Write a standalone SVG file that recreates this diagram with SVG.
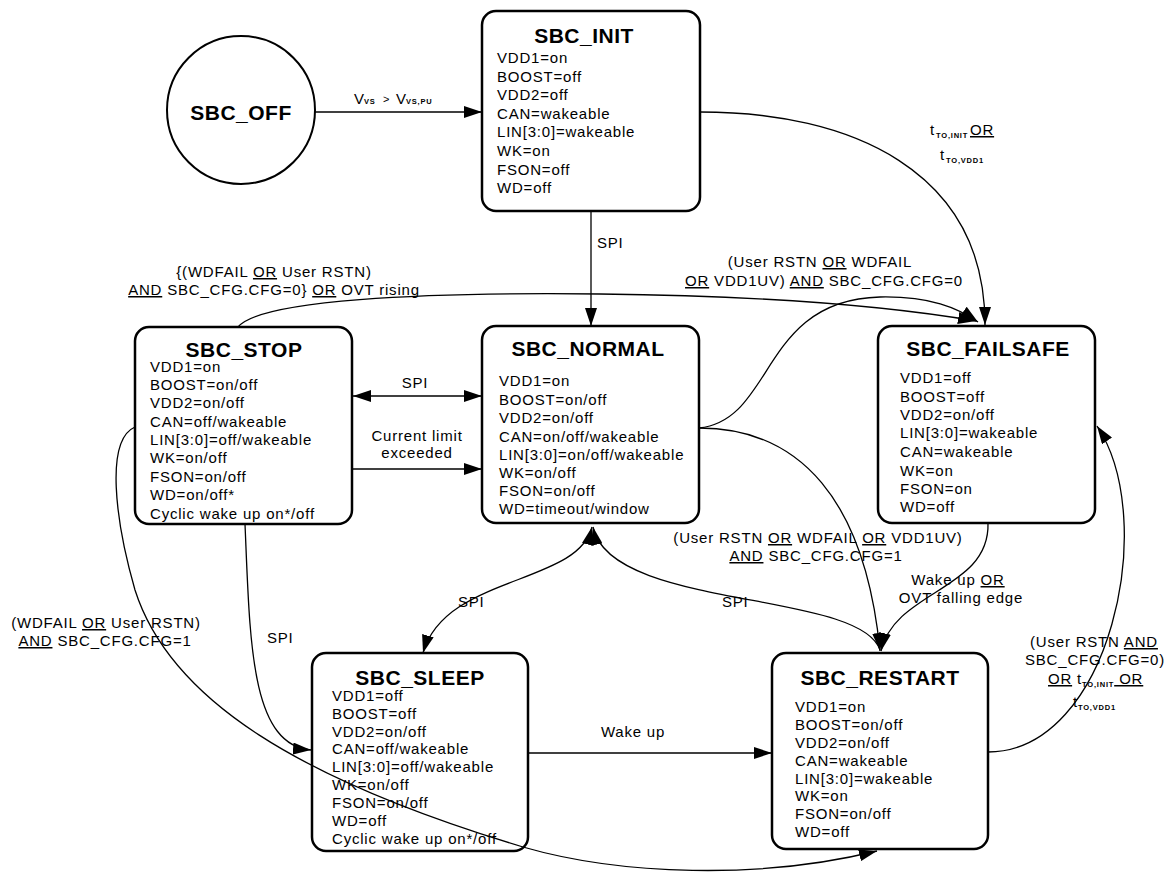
<svg xmlns="http://www.w3.org/2000/svg" width="1167" height="874" viewBox="0 0 1167 874">
  <style>
    .t { font-family: "Liberation Sans", Arial, sans-serif; font-size: 15px; letter-spacing: 0.8px; fill: #000; }
    .h { font-family: "Liberation Sans", Arial, sans-serif; font-size: 21px; font-weight: bold; letter-spacing: 0.5px; text-anchor: middle; fill: #000; }
    .m { text-anchor: middle; }
    .sub { font-size: 7.5px; font-weight: bold; letter-spacing: 0.8px; }
    .u { text-decoration: underline; }
    .box { fill: #fff; stroke: #000; stroke-width: 2.5; }
    .edge { fill: none; stroke: #000; stroke-width: 1.3; }
  </style>
  <defs>
    <marker id="ah" viewBox="0 0 18 12" refX="18" refY="6" markerWidth="18" markerHeight="12" markerUnits="userSpaceOnUse" orient="auto-start-reverse">
      <path d="M0,0 L18,6 L0,12 z" fill="#000"/>
    </marker>
  </defs>
  <rect width="1167" height="874" fill="#fff"/>

  <!-- states -->
  <g id="sbc-off">
    <circle cx="241" cy="110" r="74" fill="#fff" stroke="#000" stroke-width="2"/>
    <text class="h" x="241" y="120">SBC_OFF</text>
  </g>

  <g id="sbc-init">
    <rect class="box" x="482" y="11" width="218" height="200" rx="14"/>
    <text class="h" x="584" y="43">SBC_INIT</text>
    <text class="t">
      <tspan x="497" y="63">VDD1=on</tspan>
      <tspan x="497" y="82">BOOST=off</tspan>
      <tspan x="497" y="100">VDD2=off</tspan>
      <tspan x="497" y="119">CAN=wakeable</tspan>
      <tspan x="497" y="137">LIN[3:0]=wakeable</tspan>
      <tspan x="497" y="156">WK=on</tspan>
      <tspan x="497" y="175">FSON=off</tspan>
      <tspan x="497" y="193">WD=off</tspan>
    </text>
  </g>

  <g id="sbc-stop">
    <rect class="box" x="135" y="327" width="217" height="197" rx="14"/>
    <text class="h" x="244" y="357">SBC_STOP</text>
    <text class="t">
      <tspan x="150" y="372">VDD1=on</tspan>
      <tspan x="150" y="390">BOOST=on/off</tspan>
      <tspan x="150" y="408">VDD2=on/off</tspan>
      <tspan x="150" y="427">CAN=off/wakeable</tspan>
      <tspan x="150" y="445">LIN[3:0]=off/wakeable</tspan>
      <tspan x="150" y="463">WK=on/off</tspan>
      <tspan x="150" y="482">FSON=on/off</tspan>
      <tspan x="150" y="500">WD=on/off*</tspan>
      <tspan x="150" y="519">Cyclic wake up on*/off</tspan>
    </text>
  </g>

  <g id="sbc-normal">
    <rect class="box" x="482" y="326" width="217" height="197" rx="14"/>
    <text class="h" x="588" y="356">SBC_NORMAL</text>
    <text class="t">
      <tspan x="499" y="386">VDD1=on</tspan>
      <tspan x="499" y="405">BOOST=on/off</tspan>
      <tspan x="499" y="423">VDD2=on/off</tspan>
      <tspan x="499" y="442">CAN=on/off/wakeable</tspan>
      <tspan x="499" y="460">LIN[3:0]=on/off/wakeable</tspan>
      <tspan x="499" y="478">WK=on/off</tspan>
      <tspan x="499" y="496">FSON=on/off</tspan>
      <tspan x="499" y="514">WD=timeout/window</tspan>
    </text>
  </g>

  <g id="sbc-failsafe">
    <rect class="box" x="878" y="326" width="217" height="197" rx="14"/>
    <text class="h" x="988" y="356">SBC_FAILSAFE</text>
    <text class="t">
      <tspan x="900" y="383">VDD1=off</tspan>
      <tspan x="900" y="402">BOOST=off</tspan>
      <tspan x="900" y="420">VDD2=on/off</tspan>
      <tspan x="900" y="438">LIN[3:0]=wakeable</tspan>
      <tspan x="900" y="457">CAN=wakeable</tspan>
      <tspan x="900" y="476">WK=on</tspan>
      <tspan x="900" y="494">FSON=on</tspan>
      <tspan x="900" y="512">WD=off</tspan>
    </text>
  </g>

  <g id="sbc-sleep">
    <rect class="box" x="312" y="653" width="216" height="198" rx="14"/>
    <text class="h" x="420" y="685">SBC_SLEEP</text>
    <text class="t">
      <tspan x="332" y="701">VDD1=off</tspan>
      <tspan x="332" y="719">BOOST=off</tspan>
      <tspan x="332" y="737">VDD2=on/off</tspan>
      <tspan x="332" y="754">CAN=off/wakeable</tspan>
      <tspan x="332" y="772">LIN[3:0]=off/wakeable</tspan>
      <tspan x="332" y="790">WK=on/off</tspan>
      <tspan x="332" y="808">FSON=on/off</tspan>
      <tspan x="332" y="826">WD=off</tspan>
      <tspan x="332" y="844">Cyclic wake up on*/off</tspan>
    </text>
  </g>

  <g id="sbc-restart">
    <rect class="box" x="772" y="653" width="216" height="196" rx="14"/>
    <text class="h" x="880" y="685">SBC_RESTART</text>
    <text class="t">
      <tspan x="795" y="712">VDD1=on</tspan>
      <tspan x="795" y="730">BOOST=on/off</tspan>
      <tspan x="795" y="748">VDD2=on/off</tspan>
      <tspan x="795" y="766">CAN=wakeable</tspan>
      <tspan x="795" y="784">LIN[3:0]=wakeable</tspan>
      <tspan x="795" y="801">WK=on</tspan>
      <tspan x="795" y="819">FSON=on/off</tspan>
      <tspan x="795" y="837">WD=off</tspan>
    </text>
  </g>

  <!-- transitions, drawn over the states -->
  <g id="connectors">
    <path class="edge" d="M315,112 L482,112" marker-end="url(#ah)"/>
    <path class="edge" d="M591,211 L591,326" marker-end="url(#ah)"/>
    <path class="edge" d="M700,112 C850,112 985,170 985,325" marker-end="url(#ah)"/>
    <path class="edge" d="M238,327 C260,300 420,292 600,294 S900,308 976,321" marker-end="url(#ah)"/>
    <path class="edge" d="M699,428 C775,420 760,300 880,297 C930,296 958,308 978,322" marker-end="url(#ah)"/>
    <path class="edge" d="M353,396 L482,396" marker-start="url(#ah)" marker-end="url(#ah)"/>
    <path class="edge" d="M353,469 L482,469" marker-end="url(#ah)"/>
    <path class="edge" d="M245,524 C250,640 250,745 311,750" marker-end="url(#ah)"/>
    <path class="edge" d="M135,427 C105,440 115,520 135,590 C170,700 300,780 523,847 C620,875 760,880 877,851" marker-end="url(#ah)"/>
    <path class="edge" d="M592,527 C578,585 445,575 423,653" marker-start="url(#ah)" marker-end="url(#ah)"/>
    <path class="edge" d="M880,650 C860,590 610,610 593,527" marker-end="url(#ah)"/>
    <path class="edge" d="M699,428 C800,428 865,500 880,651" marker-end="url(#ah)"/>
    <path class="edge" d="M988,523 C990,590 895,590 881,651" marker-end="url(#ah)"/>
    <path class="edge" d="M528,753 L772,753" marker-end="url(#ah)"/>
    <path class="edge" d="M988,752 C1110,752 1160,520 1097,426" marker-end="url(#ah)"/>
  </g>

  <!-- transition labels -->
  <g id="labels" class="t">
    <text x="354" y="104">V<tspan class="sub" x="364">VS</tspan><tspan x="383" y="103" font-size="11">&gt;</tspan><tspan x="396" y="104">V</tspan><tspan class="sub" x="406">VS,PU</tspan></text>
    <text x="930" y="135">t<tspan class="sub" x="936" y="138">TO,INIT</tspan><tspan class="u" x="970" y="135">OR</tspan></text>
    <text x="940" y="160">t<tspan class="sub" x="946" y="163">TO,VDD1</tspan></text>
    <text x="597" y="248">SPI</text>
    <text class="m" x="274" y="277">{(WDFAIL <tspan class="u">OR</tspan> User RSTN)</text>
    <text class="m" x="274" y="295"><tspan class="u">AND</tspan> SBC_CFG.CFG=0} <tspan class="u">OR</tspan> OVT rising</text>
    <text class="m" x="820" y="267">(User RSTN <tspan class="u">OR</tspan> WDFAIL</text>
    <text class="m" x="824" y="286"><tspan class="u">OR</tspan> VDD1UV) <tspan class="u">AND</tspan> SBC_CFG.CFG=0</text>
    <text class="m" x="415" y="388">SPI</text>
    <text class="m" x="417" y="441">Current limit</text>
    <text class="m" x="417" y="458">exceeded</text>
    <text class="m" x="818" y="543">(User RSTN <tspan class="u">OR</tspan> WDFAIL <tspan class="u">OR</tspan> VDD1UV)</text>
    <text class="m" x="816" y="561"><tspan class="u">AND</tspan> SBC_CFG.CFG=1</text>
    <text class="m" x="958" y="585">Wake up <tspan class="u">OR</tspan></text>
    <text class="m" x="961" y="603">OVT falling edge</text>
    <text x="722" y="607">SPI</text>
    <text x="458" y="607">SPI</text>
    <text class="m" x="106" y="628">(WDFAIL <tspan class="u">OR</tspan> User RSTN)</text>
    <text class="m" x="105" y="646"><tspan class="u">AND</tspan> SBC_CFG.CFG=1</text>
    <text x="267" y="643">SPI</text>
    <text class="m" x="633" y="737">Wake up</text>
    <text class="m" x="1094" y="647">(User RSTN <tspan class="u">AND</tspan></text>
    <text class="m" x="1095" y="665">SBC_CFG.CFG=0)</text>
    <text x="1048" y="684"><tspan class="u">OR</tspan> t<tspan class="sub" dy="3">TO,INIT</tspan><tspan class="u" dy="-3"> OR</tspan></text>
    <text x="1073" y="707">t<tspan class="sub" dy="3">TO,VDD1</tspan></text>
  </g>
</svg>
